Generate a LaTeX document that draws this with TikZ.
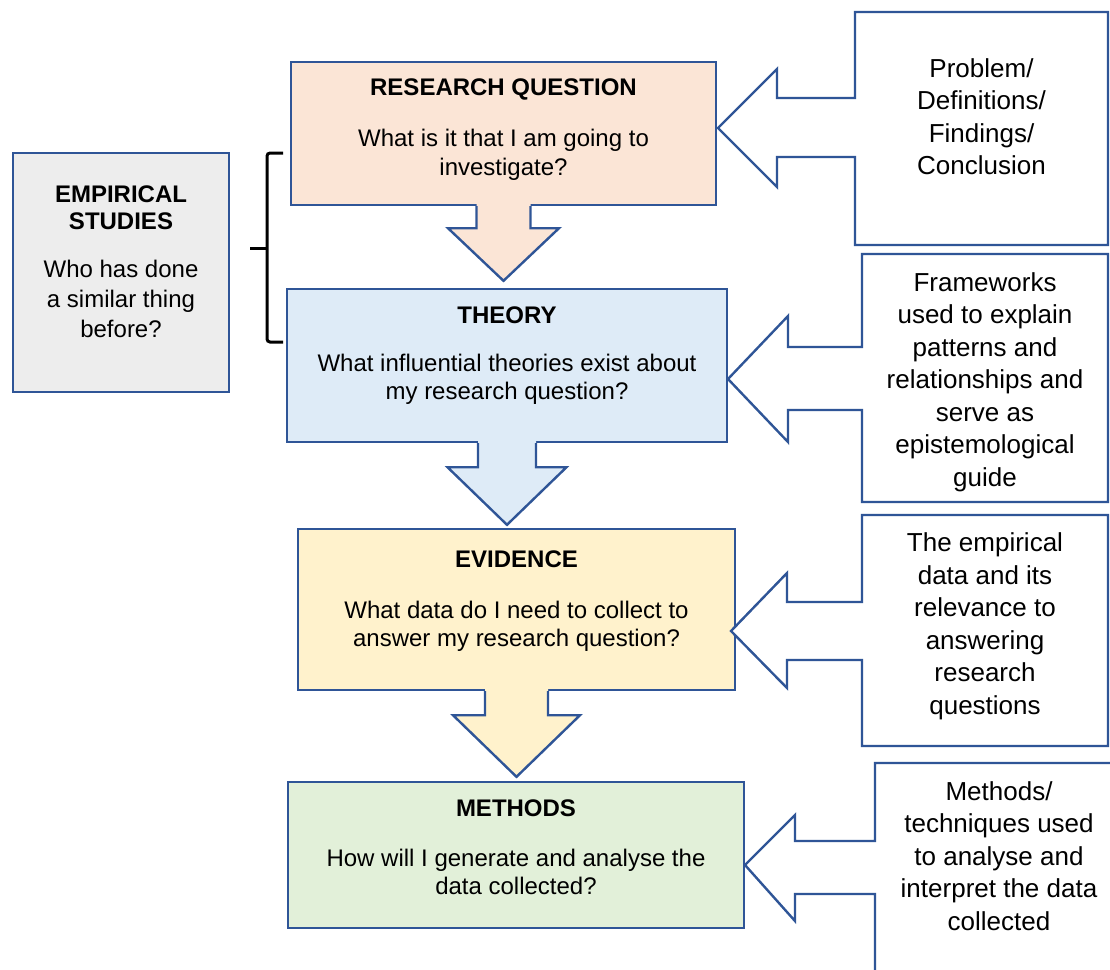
\documentclass[tikz,border=0pt]{standalone}
\usepackage{fontspec}
\setmainfont{Liberation Sans}
\usetikzlibrary{calc}

\definecolor{edge}{HTML}{2F5597}
\definecolor{peachfill}{HTML}{FBE5D6}
\definecolor{skyfill}{HTML}{DEEBF7}
\definecolor{creamfill}{HTML}{FFF2CC}
\definecolor{mintfill}{HTML}{E2F0D9}
\definecolor{greyfill}{HTML}{EDEDED}

% text nodes are placed by the baseline of their last line
\tikzset{
  stage/.style={draw=edge, line width=2.4pt, inner sep=0pt},
  outline/.style={draw=edge, line width=2.4pt, line join=miter},
  heading/.style={font=\fontsize{24}{27}\selectfont\bfseries, align=center, anchor=base, inner sep=0pt},
  body/.style={font=\fontsize{24}{28.5}\selectfont, align=center, anchor=base, inner sep=0pt},
  sidebody/.style={font=\fontsize{24}{30}\selectfont, align=center, anchor=base, inner sep=0pt},
  note/.style={font=\fontsize{26}{32.5}\selectfont, align=center, anchor=base, inner sep=0pt},
}

% block arrow pointing down from one stage to the next
% #1 source, #2 target, #3 fill, #4 shaft half width, #5 head half width,
% #6 shaft length, #7 gap between tip and target
\newcommand\blockdrop[7]{%
  \fill[#3] ($(#1.south)+(-#4,-3)$) -- ($(#1.south)+(-#4,#6)$)
    -- ($(#1.south)+(-#5,#6)$) -- ($(#1.south |- #2.north)+(0,-#7)$)
    -- ($(#1.south)+(#5,#6)$) -- ($(#1.south)+(#4,#6)$)
    -- ($(#1.south)+(#4,-3)$) -- cycle;
  \draw[outline] ($(#1.south)+(-#4,0)$) -- ($(#1.south)+(-#4,#6)$)
    -- ($(#1.south)+(-#5,#6)$) -- ($(#1.south |- #2.north)+(0,-#7)$)
    -- ($(#1.south)+(#5,#6)$) -- ($(#1.south)+(#4,#6)$)
    -- ($(#1.south)+(#4,0)$);
}

% callout box with a broad arrow on its left side
% #1 left, #2 right, #3 top, #4 bottom, #5 shaft top, #6 shaft bottom,
% #7 shaft left end, #8 head top, #9 head bottom; the tip follows
\newcommand\callout[9]{%
  \def\coL{#1}\def\coR{#2}\def\coT{#3}\def\coB{#4}%
  \def\coST{#5}\def\coSB{#6}\def\coSL{#7}\def\coHT{#8}\def\coHB{#9}%
  \calloutdraw}
\newcommand\calloutdraw[1]{%
  \filldraw[outline, fill=white] (\coL,\coT) -- (\coR,\coT) -- (\coR,\coB) -- (\coL,\coB)
    -- (\coL,\coSB) -- (\coSL,\coSB) -- (\coSL,\coHB) -- (#1) -- (\coSL,\coHT)
    -- (\coSL,\coST) -- (\coL,\coST) -- cycle;
}

\begin{document}
\begin{tikzpicture}[x=1pt, y=-1pt]
  \clip (0,0) rectangle (1110,969);
  \fill[white] (0,0) rectangle (1110,969);

  % main stages
  \node[stage, fill=peachfill, minimum width=425pt, minimum height=143pt] (rq) at (503.5,133.5) {};
  \node[stage, fill=skyfill,   minimum width=440pt, minimum height=153pt] (th) at (507,365.5) {};
  \node[stage, fill=creamfill, minimum width=437pt, minimum height=161pt] (ev) at (516.5,609.5) {};
  \node[stage, fill=mintfill,  minimum width=456pt, minimum height=146pt] (me) at (516,855) {};

  % side box
  \node[stage, fill=greyfill, minimum width=216pt, minimum height=239pt] (es) at (121,272.5) {};

  % arrows between stages
  \blockdrop{rq}{th}{peachfill}{27}{55.5}{22}{7}
  \blockdrop{th}{ev}{skyfill}{29}{59.5}{24}{3}
  \blockdrop{ev}{me}{creamfill}{31.5}{63.5}{24}{4}

  % stage texts
  \node[heading] (rqh) at (503.5,95) {RESEARCH QUESTION};
  \node[body] (rqb) at (503.5,175) {What is it that I am going to\\investigate?};
  \node[heading] (thh) at (507,323) {THEORY};
  \node[body] (thb) at (507,399.5) {What influential theories exist about\\my research question?};
  \node[heading] (evh) at (516.5,567) {EVIDENCE};
  \node[body] (evb) at (516.5,646.5) {What data do I need to collect to\\answer my research question?};
  \node[heading] (meh) at (516,816) {METHODS};
  \node[body] (meb) at (516,894.5) {How will I generate and analyse the\\data collected?};

  \node[heading] (esh) at (121,229) {EMPIRICAL\\STUDIES};
  \node[sidebody] (esb) at (121,337) {Who has done\\a similar thing\\before?};

  % brace grouping the first two stages
  \coordinate (bt) at (283,153);
  \coordinate (bb) at (283,342);
  \coordinate (bm) at (250,248);
  \draw[line width=3pt, rounded corners=3pt] (bt) -- (267,153) -- (267,342) -- (bb);
  \draw[line width=3pt] (bm) -- (267,248);

  % callouts on the right
  \callout{855}{1108}{12}{245}{98}{157}{777}{69}{187}{718,128}
  \callout{862}{1108}{254}{502}{347}{410}{788}{316}{442}{728,379}
  \callout{862}{1108}{515}{746}{602}{660}{787}{573}{688}{731,631}
  \callout{875}{1125}{763}{1000}{841}{894}{795}{815}{921}{745,865}

  \node[note] (n1) at (981.5,174.5) {Problem/\\Definitions/\\Findings/\\Conclusion};
  \node[note] (n2) at (985,486) {Frameworks\\used to explain\\patterns and\\relationships and\\serve as\\epistemological\\guide};
  \node[note] (n3) at (985,714) {The empirical\\data and its\\relevance to\\answering\\research\\questions};
  \node[note] (n4) at (999,930) {Methods/\\techniques used\\to analyse and\\interpret the data\\collected};
\end{tikzpicture}
\end{document}
